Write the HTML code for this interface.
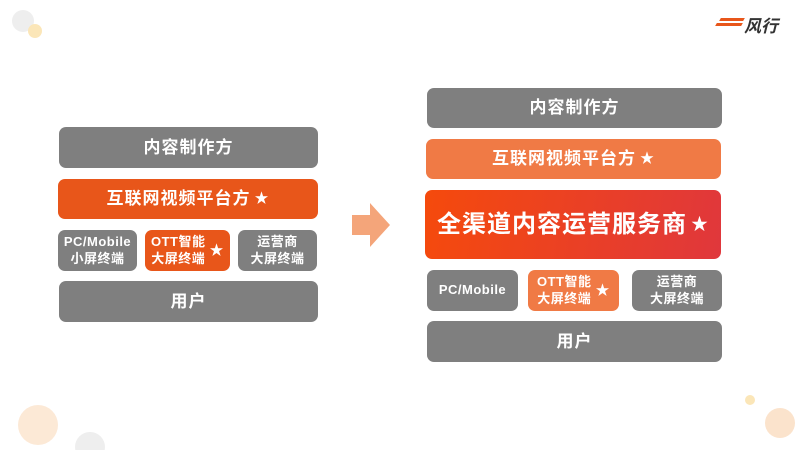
<!DOCTYPE html><html><head><meta charset="utf-8"><style>
html,body{margin:0;width:800px;height:450px;overflow:hidden}
body{background:#fff;position:relative;font-family:"Liberation Sans","Noto Sans CJK SC",sans-serif}
.b{position:absolute;border-radius:7px;color:#fff;display:flex;align-items:center;justify-content:center;text-align:center;background:#7f7f7f;font-size:17px;line-height:1.25;font-weight:bold;letter-spacing:1px}
.s{font-size:13px;letter-spacing:0.5px}
.o{background:#e8561a}
.lo{background:#f07a45}
.st{font-size:14px;margin-left:4px}
.c{position:absolute;border-radius:50%}
</style></head><body>
<div class="c" style="left:12px;top:10px;width:22px;height:22px;background:#eee"></div>
<div class="c" style="left:28px;top:24px;width:14px;height:14px;background:#fbe6b8"></div>
<div class="c" style="left:18px;top:405px;width:40px;height:40px;background:#fbe3cc;opacity:.8"></div>
<div class="c" style="left:75px;top:432px;width:30px;height:30px;background:#eee"></div>
<div class="c" style="left:765px;top:408px;width:30px;height:30px;background:#fbe3cc"></div>
<div class="c" style="left:745px;top:395px;width:10px;height:10px;background:#fbe6b8"></div>
<div style="position:absolute;left:712px;top:16px;width:32px;height:14px">
<div style="position:absolute;left:8px;top:2px;width:24px;height:3px;background:#e8561a;transform:skewX(-30deg)"></div>
<div style="position:absolute;left:4px;top:7px;width:26px;height:3px;background:#e8561a;transform:skewX(-30deg)"></div>
</div>
<div style="position:absolute;left:744px;top:12px;font-size:17px;font-style:italic;color:#333;font-weight:bold">风行</div>

<div class="b" style="left:59px;top:127px;width:259px;height:41px">内容制作方</div>
<div class="b o" style="left:58px;top:179px;width:260px;height:40px">互联网视频平台方<span class="st">★</span></div>
<div class="b s" style="left:58px;top:230px;width:79px;height:41px">PC/Mobile<br>小屏终端</div>
<div class="b s o" style="left:145px;top:230px;width:85px;height:41px"><span>OTT智能<br>大屏终端</span><span class="st">★</span></div>
<div class="b s" style="left:238px;top:230px;width:79px;height:41px">运营商<br>大屏终端</div>
<div class="b" style="left:59px;top:281px;width:259px;height:41px">用户</div>

<svg style="position:absolute;left:352px;top:203px" width="40" height="44"><polygon points="0,12 18,12 18,0 38,22 18,44 18,32 0,32" fill="#f4a57a"/></svg>

<div class="b" style="left:427px;top:88px;width:295px;height:40px">内容制作方</div>
<div class="b lo" style="left:426px;top:139px;width:295px;height:40px">互联网视频平台方<span class="st">★</span></div>
<div class="b" style="left:425px;top:190px;width:296px;height:69px;font-size:24px;background:linear-gradient(100deg,#f54a0c,#e0373c)">全渠道内容运营服务商<span class="st" style="font-size:17px">★</span></div>
<div class="b s" style="left:427px;top:270px;width:91px;height:41px">PC/Mobile</div>
<div class="b s lo" style="left:528px;top:270px;width:91px;height:41px"><span>OTT智能<br>大屏终端</span><span class="st">★</span></div>
<div class="b s" style="left:632px;top:270px;width:90px;height:41px">运营商<br>大屏终端</div>
<div class="b" style="left:427px;top:321px;width:295px;height:41px">用户</div>
</body></html>
